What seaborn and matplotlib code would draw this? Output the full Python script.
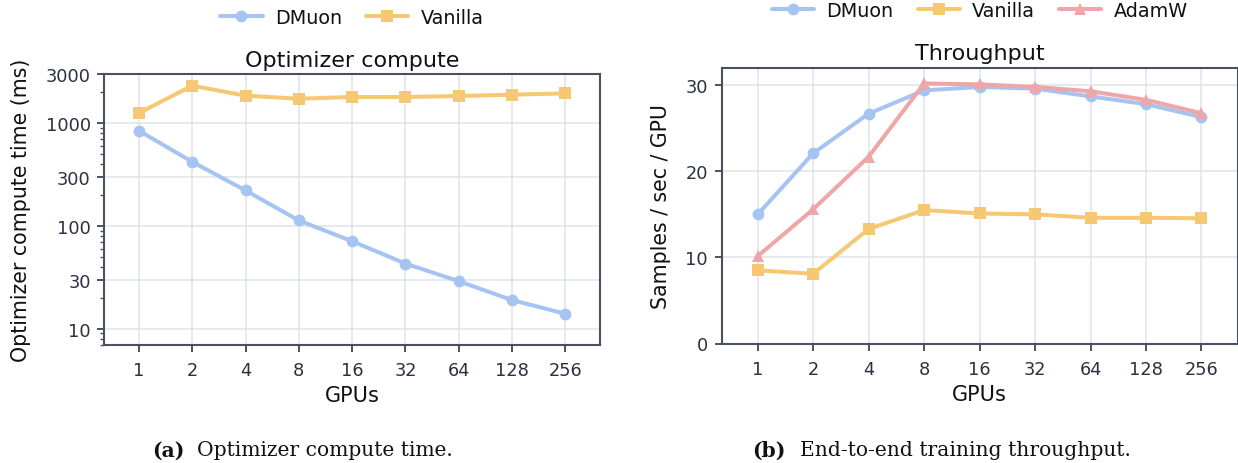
import numpy as np
import pandas as pd
import matplotlib
matplotlib.use("Agg")
import matplotlib.pyplot as plt
import seaborn as sns

# Data
gpus = [1, 2, 4, 8, 16, 32, 64, 128, 256]
gpu_labels = ["1", "2", "4", "8", "16", "32", "64", "128", "256"]

# optimizer compute time (ms)
dmuon_time = [842, 420, 221, 113, 71, 43, 29, 19, 14]
vanilla_time = [1252, 2310, 1846, 1726, 1792, 1792, 1832, 1888, 1945]

# samples / sec / GPU
dmuon_tput = [15.0, 22.1, 26.7, 29.4, 29.8, 29.6, 28.7, 27.8, 26.3]
vanilla_tput = [8.5, 8.1, 13.3, 15.5, 15.1, 15.0, 14.6, 14.6, 14.55]
adamw_tput = [10.15, 15.6, 21.7, 30.2, 30.1, 29.8, 29.3, 28.3, 26.75]

colors = {"DMuon": "#a6c4f2", "Vanilla": "#f7c873", "AdamW": "#eea6a6"}
markers = {"DMuon": "o", "Vanilla": "s", "AdamW": "^"}

time_df = pd.DataFrame({
    "GPUs": gpus * 2,
    "value": dmuon_time + vanilla_time,
    "method": ["DMuon"] * 9 + ["Vanilla"] * 9,
})
tput_df = pd.DataFrame({
    "GPUs": gpus * 3,
    "value": dmuon_tput + vanilla_tput + adamw_tput,
    "method": ["DMuon"] * 9 + ["Vanilla"] * 9 + ["AdamW"] * 9,
})

sns.set_style("whitegrid", {
    "grid.color": "#dfe3ea",
    "axes.edgecolor": "#4a5260",
    "xtick.color": "#4a5260",
    "ytick.color": "#4a5260",
    "text.color": "#111111",
    "axes.labelcolor": "#111111",
    "xtick.bottom": True,
    "ytick.left": True,
})
plt.rcParams["font.family"] = ["DejaVu Sans"]
plt.rcParams["axes.linewidth"] = 1.5
plt.rcParams["grid.linewidth"] = 1.1

W, H = 1238, 464
fig = plt.figure(figsize=(W / 100, H / 100), dpi=100)


def px_axes(left, right, top, bottom):
    return fig.add_axes([left / W, 1 - bottom / H, (right - left) / W, (bottom - top) / H])


ax1 = px_axes(104.3, 600, 75, 345.7)
ax2 = px_axes(721.7, 1237.5, 69, 344.5)


def draw(ax, df, order):
    sns.lineplot(data=df, x="GPUs", y="value", hue="method", style="method",
                 hue_order=order, style_order=order, palette=colors,
                 markers=markers, dashes=False, linewidth=2.9, markersize=8.5,
                 markeredgewidth=0, ax=ax)
    ax.set_xscale("log", base=2)
    ax.set_xticks(gpus)
    ax.set_xticklabels(gpu_labels)
    ax.minorticks_off()
    ax.set_xlim(2 ** -0.65, 2 ** 8.65)
    ax.tick_params(axis="both", labelsize=12.8, labelcolor="#2a3140",
                   length=5.3, width=1.4)
    ax.tick_params(axis="x", pad=6.5)
    ax.tick_params(axis="y", pad=4.5)
    ax.set_xlabel("GPUs", fontsize=15, labelpad=4.5)
    handles, labels = ax.get_legend_handles_labels()
    ax.legend_.remove()
    return handles, labels


legend_kw = dict(loc="center", frameon=False, fontsize=13.8, columnspacing=1.25,
                 handletextpad=0.65, handlelength=2.2)

h1, l1 = draw(ax1, time_df, ["DMuon", "Vanilla"])
ax1.set_yscale("log")
ax1.set_ylim(7, 3000)
ax1.set_yticks([10, 30, 100, 300, 1000, 3000])
ax1.set_yticklabels(["10", "30", "100", "300", "1000", "3000"])
ax1.yaxis.set_minor_locator(matplotlib.ticker.LogLocator(base=10, subs=np.arange(2, 10)))
ax1.yaxis.set_minor_formatter(matplotlib.ticker.NullFormatter())
ax1.tick_params(axis="y", which="minor", length=3, width=1.0, color="#4a5260")
ax1.set_ylabel("Optimizer compute time (ms)", fontsize=14.8)
ax1.yaxis.set_label_coords(-0.148, 0.5)
ax1.set_title("Optimizer compute", fontsize=16, pad=5.6)
fig.legend(h1, l1, bbox_to_anchor=(352 / W, 1 - 18.3 / H), ncol=2, **legend_kw)

h2, l2 = draw(ax2, tput_df, ["DMuon", "Vanilla", "AdamW"])
ax2.set_ylim(0, 32)
ax2.set_yticks([0, 10, 20, 30])
ax2.set_ylabel("Samples / sec / GPU", fontsize=14.8)
ax2.yaxis.set_label_coords(-0.098, 0.5)
ax2.set_title("Throughput", fontsize=16, pad=6.3)
fig.legend(h2, l2, bbox_to_anchor=(980 / W, 1 - 11.7 / H), ncol=3, **legend_kw)

# captions
cap_font = ["DejaVu Serif"]
cap_y = 1 - 451 / H
fig.text(152 / W, cap_y, "(a)", fontsize=14.6, fontweight="bold",
         family=cap_font, va="center", ha="left")
fig.text(197 / W, cap_y, "Optimizer compute time.", fontsize=14.6,
         family=cap_font, va="center", ha="left")
fig.text(752 / W, cap_y, "(b)", fontsize=14.6, fontweight="bold",
         family=cap_font, va="center", ha="left")
fig.text(800 / W, cap_y, "End-to-end training throughput.", fontsize=14.6,
         family=cap_font, va="center", ha="left")

fig.savefig("out.png", dpi=100)
